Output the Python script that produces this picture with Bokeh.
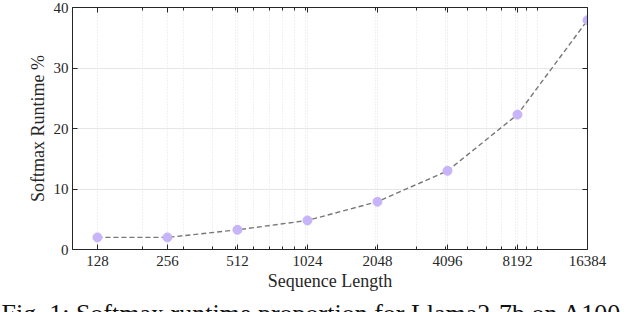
from bokeh.plotting import figure
from bokeh.layouts import column
from bokeh.models import (FixedTicker, NumeralTickFormatter, LogAxis, LinearAxis,
                          Range1d, Label, ColumnDataSource)
from bokeh.embed import file_html
from bokeh.resources import INLINE

seq_len = [128, 256, 512, 1024, 2048, 4096, 8192, 16384]
softmax_pct = [2.0, 2.0, 3.25, 4.8, 7.9, 13.0, 22.3, 37.9]
x_ticks = [128, 256, 512, 1024, 2048, 4096, 8192, 16384]
x_minor = [100, 200, 300, 400, 500, 600, 700, 800, 900, 1000, 2000, 3000, 4000, 5000,
           6000, 7000, 8000, 9000, 10000]
y_ticks = [0, 10, 20, 30, 40]
caption = "Fig. 1: Softmax runtime proportion for Llama2-7b on A100"

FONT = "Liberation Serif"
AX = "#262626"

p = figure(width=640, height=294, x_axis_type="log", output_backend="svg",
           toolbar_location=None, x_range=Range1d(100, 16384), y_range=Range1d(0, 40),
           min_border_top=7, min_border_right=53, min_border_left=72, min_border_bottom=45)
p.outline_line_color = None
p.background_fill_color = "white"
p.frame_align = False

xt = FixedTicker(ticks=x_ticks, minor_ticks=x_minor)
yt = FixedTicker(ticks=y_ticks)

bottom = p.xaxis[0]
left = p.yaxis[0]
bottom.ticker = xt
bottom.formatter = NumeralTickFormatter(format="0")
bottom.axis_label = "Sequence Length"
left.ticker = yt
left.axis_label = "Softmax Runtime %"

top = LogAxis(ticker=xt)
right = LinearAxis(ticker=yt)
p.add_layout(top, "above")
p.add_layout(right, "right")

for ax in [bottom, left, top, right]:
    ax.axis_line_color = AX
    ax.axis_line_width = 1
    ax.major_tick_line_color = AX
    ax.minor_tick_line_color = AX
    ax.major_tick_in = 5
    ax.major_tick_out = 0
    ax.minor_tick_in = 3
    ax.minor_tick_out = 0
    ax.major_label_text_font = FONT
    ax.major_label_text_font_size = "15px"
    ax.major_label_text_color = AX
    ax.axis_label_text_font = FONT
    ax.axis_label_text_font_size = "18px"
    ax.axis_label_text_font_style = "normal"
    ax.axis_label_text_color = AX
top.major_label_text_font_size = "1px"
right.major_label_text_font_size = "1px"
top.major_label_text_color = None
right.major_label_text_color = None
top.major_label_standoff = 0
right.major_label_standoff = 0
left.major_label_standoff = 4
bottom.major_label_standoff = 6
left.axis_label_standoff = 3
bottom.axis_label_standoff = 2
right.minor_tick_line_color = None
left.minor_tick_line_color = None

p.xgrid.ticker = xt
p.xgrid.grid_line_color = "#e3e3e3"
p.xgrid.minor_grid_line_color = "#e3e3e3"
p.xgrid.minor_grid_line_dash = "1 2"
p.xgrid.grid_line_dash = "1 2"
p.ygrid.ticker = yt
p.ygrid.grid_line_color = "#e6e6e6"

src = ColumnDataSource(dict(x=seq_len, y=softmax_pct))
p.line("x", "y", source=src, line_color="#777777", line_dash="5 3", line_width=1.4)
p.scatter("x", "y", source=src, size=9, fill_color="#c8b4f8", line_color="#c8b4f8")

# caption strip (clipped at the bottom like the reference)
c = figure(width=640, height=18, output_backend="svg", toolbar_location=None,
           x_range=Range1d(0, 1), y_range=Range1d(0, 1),
           min_border=0, x_axis_location=None, y_axis_location=None)
c.outline_line_color = None
c.grid.visible = False
c.frame_align = False
c.add_layout(Label(x=1, y=-1, x_units="screen", y_units="screen", text=caption,
                   text_font=FONT, text_font_size="26px", text_color="#111111",
                   text_baseline="alphabetic", text_align="left"))

layout = column(p, c, spacing=0)
open("out.html", "w").write(file_html(layout, INLINE))
